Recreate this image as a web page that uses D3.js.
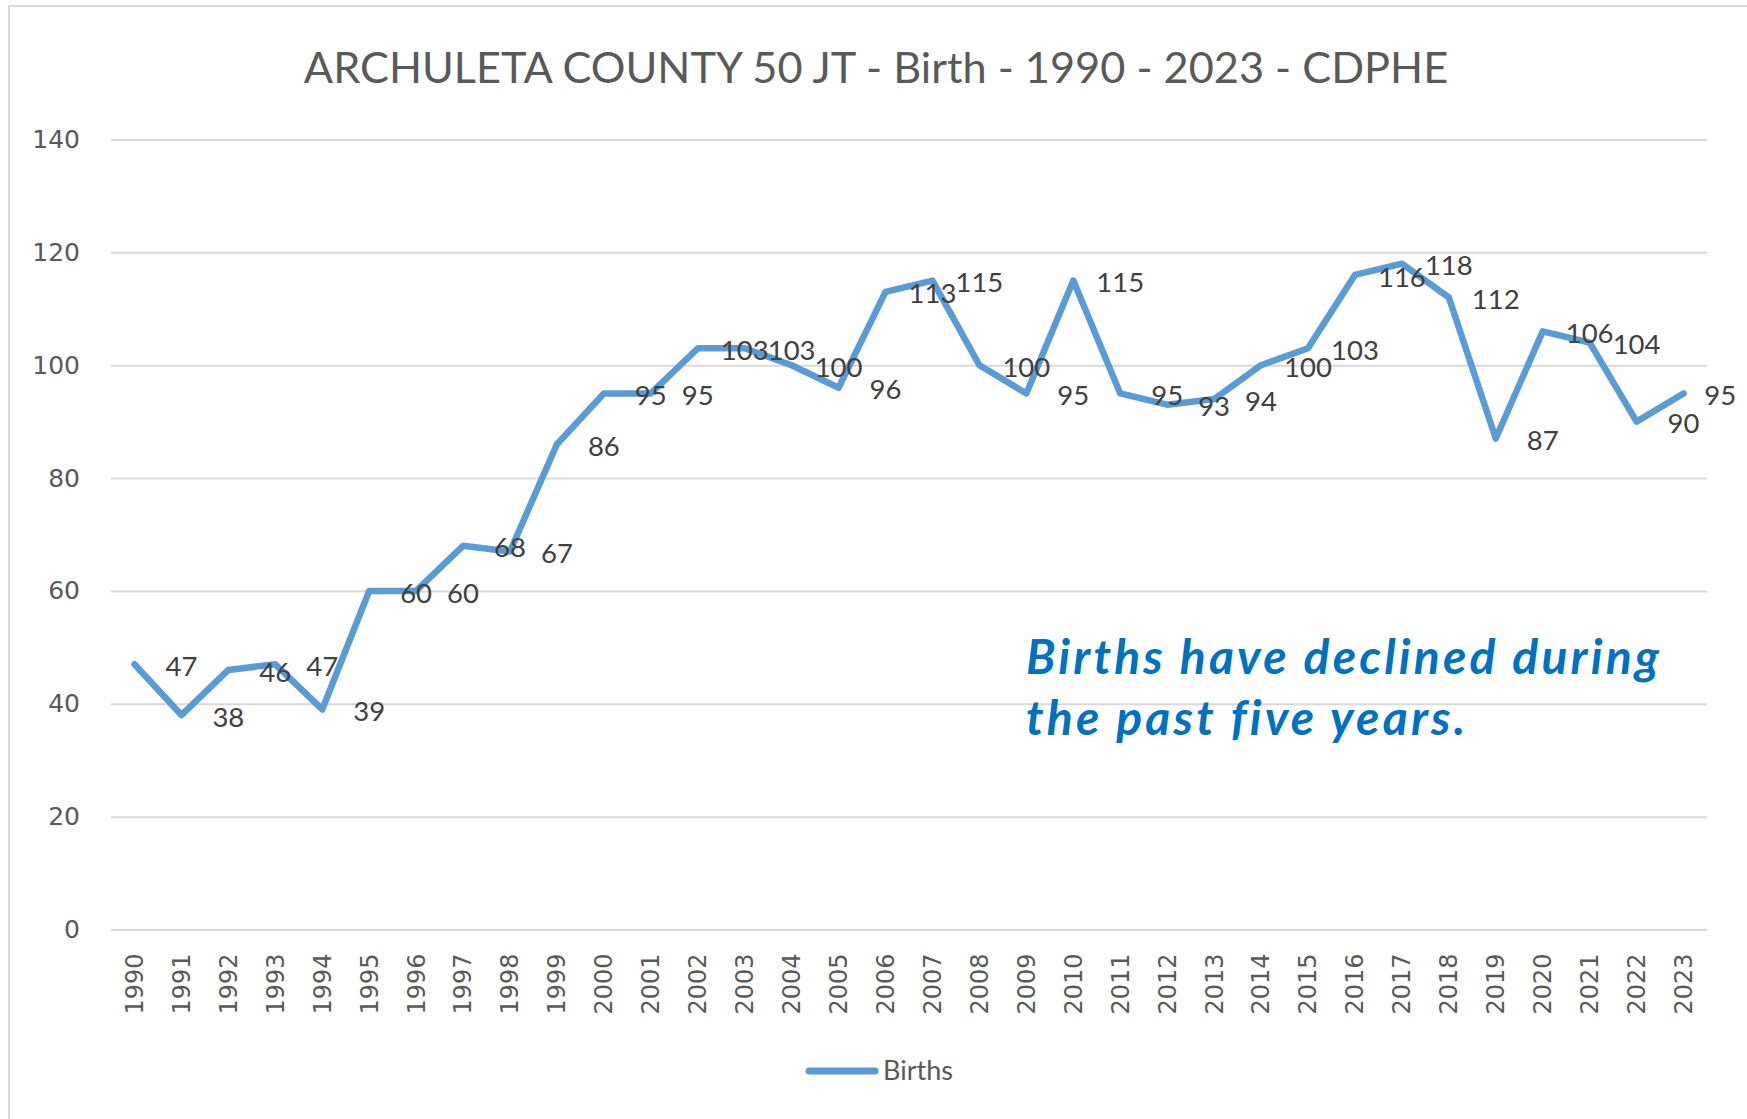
<!DOCTYPE html>
<html>
<head>
<meta charset="utf-8">
<script src="https://cdn.jsdelivr.net/npm/d3@7"></script>
<style>
  html, body { margin: 0; padding: 0; background: #fff; }
  svg { display: block; }
</style>
</head>
<body>
<script>
const years = ["1990","1991","1992","1993","1994","1995","1996","1997","1998","1999",
  "2000","2001","2002","2003","2004","2005","2006","2007","2008","2009",
  "2010","2011","2012","2013","2014","2015","2016","2017","2018","2019",
  "2020","2021","2022","2023"];
const births = [47,38,46,47,39,60,60,68,67,86,
  95,95,103,103,100,96,113,115,100,95,
  115,95,93,94,100,103,116,118,112,87,
  106,104,90,95];
const yTicks = [0,20,40,60,80,100,120,140];
const titleText = "ARCHULETA COUNTY 50 JT - Birth - 1990 - 2023 - CDPHE";
const seriesName = "Births";
const noteLines = ["Births have declined during", "the past five years."];

const W = 1747, H = 1119;
const plot = { left: 111, right: 1707, top: 139.5, bottom: 929.5 };

const svg = d3.select("body").append("svg").attr("width", W).attr("height", H);

// chart frame
svg.append("rect").attr("x", 9).attr("y", 6).attr("width", W + 20).attr("height", H + 20)
  .attr("fill", "#fff").attr("stroke", "#d9d9d9").attr("stroke-width", 2);

const x = d3.scaleBand().domain(years).range([plot.left, plot.right]);
const y = d3.scaleLinear().domain([0, 140]).range([plot.bottom, plot.top]);
const cx = d => x(d) + x.bandwidth() / 2;

// title
svg.append("text").attr("x", 876).attr("y", 83)
  .attr("text-anchor", "middle")
  .attr("font-family", "Lato, 'Open Sans', sans-serif")
  .attr("font-size", 43.3).attr("fill", "#595959")
  .text(titleText);

// y axis with gridlines
const yAxis = d3.axisLeft(y).tickValues(yTicks).tickSize(-(plot.right - plot.left)).tickPadding(31);
const gy = svg.append("g").attr("transform", `translate(${plot.left},0)`).call(yAxis);
gy.select(".domain").remove();
gy.selectAll(".tick line").attr("stroke", "#d9d9d9").attr("stroke-width", 2);
gy.selectAll(".tick text").attr("font-family", "'DejaVu Sans', sans-serif")
  .attr("font-size", 25).attr("fill", "#595959");

// x axis
const xAxis = d3.axisBottom(x).tickSize(0).tickPadding(0);
const gx = svg.append("g").attr("transform", `translate(0,${plot.bottom})`).call(xAxis);
gx.select(".domain").remove();
gx.selectAll(".tick text")
  .attr("font-family", "'DejaVu Sans', sans-serif")
  .attr("font-size", 24).attr("fill", "#595959")
  .attr("text-anchor", "end")
  .attr("transform", "translate(0,24) rotate(-90)")
  .attr("x", 0).attr("y", 0).attr("dy", "0.35em");

// line
const line = d3.line().x((d, i) => cx(years[i])).y(d => y(d));
svg.append("path").datum(births).attr("d", line)
  .attr("fill", "none").attr("stroke", "#5B9BD5").attr("stroke-width", 6.5)
  .attr("stroke-linejoin", "round").attr("stroke-linecap", "round");

// data labels (shifted one category right, as in the reference)
const step = x.step();
svg.append("g").selectAll("text").data(births).join("text")
  .attr("x", (d, i) => cx(years[i]) + (i === births.length - 1 ? step * 0.78 : step))
  .attr("y", d => y(d) + 2)
  .attr("dy", "0.35em")
  .attr("text-anchor", "middle")
  .attr("font-family", "Lato, 'Open Sans', sans-serif")
  .attr("font-size", 27.5).attr("fill", "#404040")
  .text(d => d);

// annotation
const note = svg.append("text")
  .attr("font-family", "Lato, 'Open Sans', sans-serif")
  .attr("font-size", 48).attr("font-weight", "bold").attr("font-style", "italic")
  .attr("letter-spacing", 3.2)
  .attr("fill", "#0070C0");
noteLines.forEach((t, i) => {
  note.append("tspan").attr("x", 1026).attr("y", 674 + i * 61).text(t);
});

// legend
const lg = svg.append("g");
lg.append("line").attr("x1", 809).attr("x2", 875).attr("y1", 1071).attr("y2", 1071)
  .attr("stroke", "#5B9BD5").attr("stroke-width", 7).attr("stroke-linecap", "round");
lg.append("text").attr("x", 883).attr("y", 1080)
  .attr("font-family", "Lato, 'Open Sans', sans-serif")
  .attr("font-size", 27).attr("fill", "#595959").text(seriesName);
</script>
</body>
</html>
